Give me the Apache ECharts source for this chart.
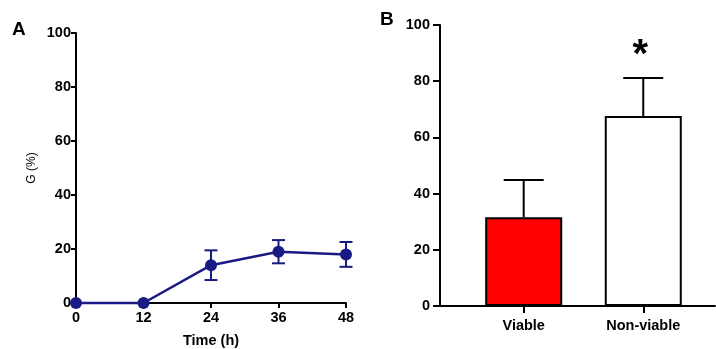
<!DOCTYPE html>
<html>
<head>
<meta charset="utf-8">
<script src="https://cdn.jsdelivr.net/npm/echarts@6/dist/echarts.min.js"></script>
<style>
  html, body { margin: 0; padding: 0; background: #ffffff; }
  #chart { width: 716px; height: 349px; }
</style>
</head>
<body>
<div id="chart"></div>
<script>
// Panel A: G (%) over time, mean ± error
const timeHours = [0, 12, 24, 36, 48];
const gMean = [0, 0, 14, 19, 18];
const gErr = [0, 0, 5.5, 4.3, 4.6];

// Panel B: G (%) by embryo group
const groups = ['Viable', 'Non-viable'];
const groupMean = [31.6, 67.6];
const groupErr = [13.2, 13.5];
const groupMarks = ['', '*'];

const yTicksMax = 100;
const yTickStep = 20;
const timeStep = 12;

const FONT = 'Arial, "Liberation Sans", sans-serif';
const LABEL_SIZE = 14.5;
const NAVY = '#1a1a85';
const groupFill = ['#ff0000', '#ffffff'];
const groupPos = groups.map((g, i) => i + 1);

const chart = echarts.init(document.getElementById('chart'), null, { renderer: 'canvas' });

const axisLine = { show: true, lineStyle: { color: '#000', width: 2 } };
const tickLabel = { fontFamily: FONT, fontWeight: 'bold', fontSize: LABEL_SIZE, color: '#000' };

function errorBarsA(params, api) {
  const x = api.value(0), y = api.value(1), e = api.value(2);
  if (!e) return { type: 'group', children: [] };
  const top = api.coord([x, y + e]);
  const bot = api.coord([x, y - e]);
  const hw = 6.5;
  const style = { stroke: NAVY, lineWidth: 2 };
  return {
    type: 'group',
    children: [
      { type: 'line', shape: { x1: top[0], y1: top[1], x2: bot[0], y2: bot[1] }, style },
      { type: 'line', shape: { x1: top[0] - hw, y1: top[1], x2: top[0] + hw, y2: top[1] }, style },
      { type: 'line', shape: { x1: bot[0] - hw, y1: bot[1], x2: bot[0] + hw, y2: bot[1] }, style }
    ]
  };
}

function errorBarsB(params, api) {
  const x = api.value(0), y = api.value(1), e = api.value(2);
  const mark = groupMarks[params.dataIndex];
  const base = api.coord([x, y]);
  const top = api.coord([x, y + e]);
  const hw = 20;
  const style = { stroke: '#000', lineWidth: 2 };
  const children = [
    { type: 'line', shape: { x1: base[0], y1: base[1], x2: top[0], y2: top[1] }, style },
    { type: 'line', shape: { x1: top[0] - hw, y1: top[1], x2: top[0] + hw, y2: top[1] }, style }
  ];
  if (mark) {
    children.push({
      type: 'text',
      x: top[0] - 3,
      y: top[1] - 2,
      style: {
        text: mark, fill: '#000',
        font: 'bold 40px ' + FONT,
        align: 'center', verticalAlign: 'bottom'
      }
    });
  }
  return { type: 'group', children };
}

const option = {
  animation: false,
  backgroundColor: '#ffffff',
  title: [
    { text: 'A', left: 12, top: 20, padding: 0, textStyle: { fontFamily: FONT, fontWeight: 'bold', fontSize: 19, color: '#000' } },
    { text: 'B', left: 380, top: 10, padding: 0, textStyle: { fontFamily: FONT, fontWeight: 'bold', fontSize: 19, color: '#000' } }
  ],
  grid: [
    { left: 76, top: 33, width: 270, height: 270, outerBoundsMode: 'none', containLabel: false },
    { left: 440, top: 25, width: 275, height: 281, outerBoundsMode: 'none', containLabel: false }
  ],
  xAxis: [
    {
      gridIndex: 0, type: 'value', min: 0, max: 48, interval: timeStep,
      name: 'Time (h)', nameLocation: 'middle', nameGap: 30,
      nameTextStyle: tickLabel,
      axisLine, splitLine: { show: false },
      axisTick: { show: true, length: 5, lineStyle: { color: '#000', width: 2 } },
      axisLabel: Object.assign({ margin: 7 }, tickLabel)
    },
    {
      gridIndex: 1, type: 'value', min: 0.3, max: 2.6,
      axisLine, splitLine: { show: false },
      axisTick: { show: true, length: 7, customValues: groupPos, lineStyle: { color: '#000', width: 2 } },
      axisLabel: Object.assign({
        customValues: groupPos, margin: 12,
        formatter: v => groups[Math.round(v) - 1] || ''
      }, tickLabel)
    }
  ],
  yAxis: [
    {
      gridIndex: 0, type: 'value', min: 0, max: yTicksMax, interval: yTickStep,
      name: 'G (%)', nameLocation: 'middle', nameGap: 38,
      nameTextStyle: { fontFamily: FONT, fontSize: 12, color: '#000' },
      axisLine, splitLine: { show: false },
      axisTick: { show: true, length: 5, lineStyle: { color: '#000', width: 2 } },
      axisLabel: Object.assign({ margin: 5 }, tickLabel)
    },
    {
      gridIndex: 1, type: 'value', min: 0, max: yTicksMax, interval: yTickStep,
      axisLine, splitLine: { show: false },
      axisTick: { show: true, length: 7, lineStyle: { color: '#000', width: 2 } },
      axisLabel: Object.assign({ margin: 10 }, tickLabel)
    }
  ],
  series: [
    {
      type: 'custom', xAxisIndex: 0, yAxisIndex: 0, clip: false, z: 2,
      renderItem: errorBarsA,
      data: timeHours.map((t, i) => [t, gMean[i], gErr[i]])
    },
    {
      type: 'line', xAxisIndex: 0, yAxisIndex: 0, clip: false, z: 3,
      data: timeHours.map((t, i) => [t, gMean[i]]),
      symbol: 'circle', symbolSize: 12,
      lineStyle: { color: NAVY, width: 2.5 },
      itemStyle: { color: NAVY, borderWidth: 0 }
    },
    {
      type: 'custom', xAxisIndex: 1, yAxisIndex: 1, clip: false, z: 1,
      renderItem: errorBarsB,
      data: groups.map((g, i) => [groupPos[i], groupMean[i], groupErr[i]])
    },
    {
      type: 'bar', xAxisIndex: 1, yAxisIndex: 1, z: 2,
      barWidth: 77,
      data: groups.map((g, i) => ({
        value: [groupPos[i], groupMean[i]],
        itemStyle: { color: groupFill[i], borderColor: '#000', borderWidth: 2 }
      }))
    }
  ]
};

chart.setOption(option);
</script>
</body>
</html>
